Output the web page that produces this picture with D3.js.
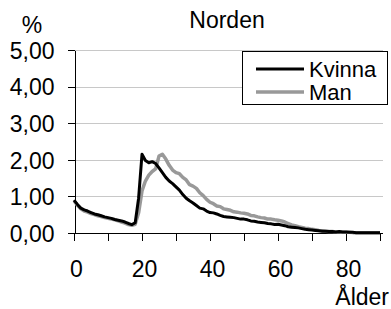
<!DOCTYPE html>
<html>
<head>
  <meta charset="utf-8">
  <style>
    body { margin: 0; background: #fff; }
    svg { font-family: 'Liberation Sans', Arial, sans-serif; }
    .grid line { stroke: #c8c8c8; stroke-width: 1px; }
    .axis path, .axis line { stroke: #000; stroke-width: 1px; shape-rendering: crispEdges; }
    .axis text { font-size: 23px; fill: #000; }
    .label { font-size: 23px; fill: #000; }
    .legend-text { font-size: 22px; fill: #000; }
  </style>
</head>
<body>
  <script src="https://d3js.org/d3.v7.min.js"></script>
  <script>

  // data: share (%) by age, 0..90
  var ages = d3.range(0, 91)
  var kvinna = [0.90,0.78,0.68,0.63,0.60,0.56,0.52,0.50,0.47,0.44,
    0.42,0.40,0.37,0.35,0.33,0.30,0.26,0.23,0.28,0.95,
    2.15,1.98,1.92,1.95,1.90,1.78,1.65,1.52,1.42,1.35,
    1.26,1.17,1.05,0.95,0.88,0.82,0.75,0.68,0.66,0.60,
    0.56,0.55,0.52,0.48,0.45,0.44,0.43,0.42,0.40,0.38,
    0.38,0.36,0.33,0.32,0.30,0.29,0.28,0.26,0.25,0.23,
    0.24,0.22,0.20,0.17,0.16,0.15,0.14,0.12,0.10,0.09,
    0.08,0.07,0.06,0.05,0.05,0.04,0.04,0.03,0.04,0.03,
    0.03,0.02,0.02,0.01,0.01,0.01,0.01,0.01,0.01,0.01,0.01]
  var man = [0.88,0.76,0.66,0.60,0.57,0.53,0.50,0.47,0.45,0.42,
    0.40,0.38,0.36,0.33,0.30,0.27,0.23,0.21,0.24,0.55,
    1.15,1.42,1.58,1.68,1.75,2.10,2.15,2.02,1.85,1.72,
    1.65,1.62,1.52,1.45,1.32,1.28,1.22,1.10,1.02,0.92,
    0.84,0.80,0.74,0.72,0.66,0.64,0.62,0.58,0.57,0.55,
    0.54,0.52,0.48,0.47,0.44,0.42,0.41,0.38,0.38,0.36,
    0.35,0.33,0.30,0.26,0.22,0.20,0.17,0.15,0.13,0.12,
    0.10,0.09,0.07,0.06,0.05,0.04,0.04,0.03,0.03,0.02,
    0.02,0.02,0.01,0.01,0.01,0.01,0.01,0.01,0.01,0.01,0.01]
  var yTicks = [0, 1, 2, 3, 4, 5]
  var xTicks = d3.range(0, 91, 10)
  var xLabels = [0, 20, 40, 60, 80]
  var seriesNames = ["Kvinna", "Man"]
  var colors = ["#000", "#999"]

  var width = 391, height = 309
  var plotLeft = 74, plotRight = 380, plotTop = 50, plotBottom = 233

  var svg = d3.select("body").append("svg")
    .attr("width", width)
    .attr("height", height)

  var x = d3.scaleLinear().domain([0, 90]).range([plotLeft, plotRight])
  var y = d3.scaleLinear().domain([0, 5]).range([plotBottom, plotTop])

  var fmt = d3.formatLocale({decimal: ",", thousands: " ", grouping: [3], currency: ["", ""]}).format(".2f")

  // gridlines
  svg.append("g").attr("class", "grid")
    .selectAll("line").data(yTicks.slice(1)).join("line")
    .attr("x1", plotLeft).attr("x2", 383)
    .attr("y1", d => Math.round(y(d)) + 0.5).attr("y2", d => Math.round(y(d)) + 0.5)

  // y axis
  var yAxis = svg.append("g").attr("class", "axis")
    .attr("transform", "translate(" + (plotLeft + 0.5) + ",0)")
    .call(d3.axisLeft(y).tickValues(yTicks).tickFormat(fmt).tickSize(7).tickSizeOuter(0).tickPadding(13))
  yAxis.selectAll("text").attr("dy", "0.36em")

  // x axis
  var xAxis = svg.append("g").attr("class", "axis")
    .attr("transform", "translate(0," + (plotBottom + 0.5) + ")")
    .call(d3.axisBottom(x).tickValues(xTicks).tickSize(7).tickSizeOuter(0)
      .tickFormat(d => xLabels.indexOf(d) >= 0 ? d : ""))
  xAxis.select(".domain").attr("d", "M" + plotLeft + ",0H383")
  xAxis.selectAll("text").attr("y", 43).attr("dy", 0).attr("dx", 2)

  // lines
  var line = d3.line().x((d, i) => x(ages[i])).y(d => y(d))
  ;[man, kvinna].forEach(function(s, k) {
    svg.append("path")
      .datum(s)
      .attr("fill", "none")
      .attr("stroke", k == 0 ? colors[1] : colors[0])
      .attr("stroke-width", k == 0 ? 3.5 : 3)
      .attr("stroke-linejoin", "round")
      .attr("d", line)
  })

  // legend
  var lg = svg.append("g")
  lg.append("rect")
    .attr("x", 242.5).attr("y", 51.5).attr("width", 145).attr("height", 53)
    .attr("fill", "#fff").attr("stroke", "#000").attr("stroke-width", 1)
  seriesNames.forEach(function(n, i) {
    var ly = 69 + i * 23
    lg.append("line")
      .attr("x1", 256).attr("x2", 304).attr("y1", ly).attr("y2", ly)
      .attr("stroke", colors[i]).attr("stroke-width", i == 0 ? 3 : 3.5)
    lg.append("text").attr("class", "legend-text")
      .attr("x", 309).attr("y", ly + 8).text(n)
  })

  // labels
  svg.append("text").attr("class", "label")
    .attr("x", 227).attr("y", 28).attr("text-anchor", "middle").text("Norden")
  svg.append("text").attr("class", "label")
    .attr("x", 32).attr("y", 33).attr("text-anchor", "middle").text("%")
  svg.append("text").attr("class", "label")
    .attr("x", 389).attr("y", 305).attr("text-anchor", "end").text("Ålder")
  </script>
</body>
</html>
